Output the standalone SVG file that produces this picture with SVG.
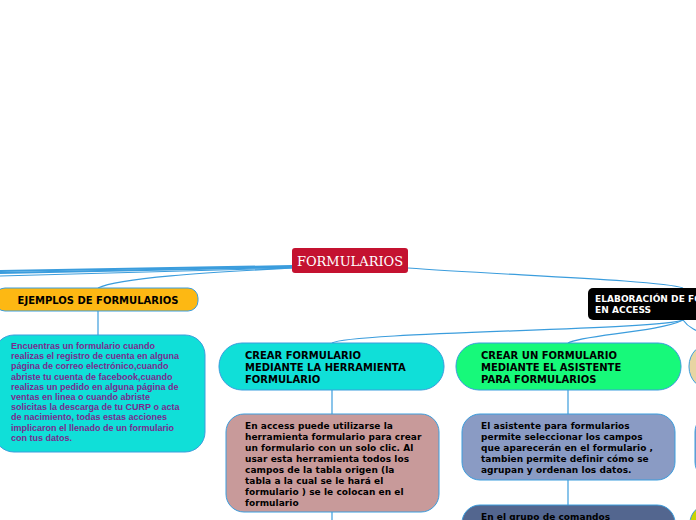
<svg xmlns="http://www.w3.org/2000/svg" width="696" height="520" viewBox="0 0 696 520">
<style>
.c{fill:none;stroke:#3b9ddd;stroke-width:1.2}
.cb{fill:none;stroke:#3b9ddd;stroke-width:2}
.b{stroke:#3b9ddd;stroke-width:1}
.t{font-family:"DejaVu Sans",Verdana,sans-serif;font-weight:bold;font-size:9px;letter-spacing:0.05px}
.p{font-family:"Liberation Sans",Arial,sans-serif;font-weight:bold;font-size:9px;fill:#7a2a8e}
.h{font-family:"DejaVu Sans",Verdana,sans-serif;font-weight:bold;font-size:10px;fill:#000}
</style>
<rect width="696" height="520" fill="#fff"/>
<g id="connectors">
<path class="cb" d="M292,266 C200,268 100,270 0,271"/>
<path class="cb" d="M292,267 C200,269 100,271 0,273"/>
<path class="c" d="M292,268 C200,271 100,273 0,276"/>
<path class="c" d="M292,268 C220,272 120,277 98,288"/>
<path class="c" d="M408,268 C500,275 660,280 683,288"/>
<path class="c" d="M98,311 L98,335"/>
<path class="c" d="M683,320 C660,330 350,332 332,343"/>
<path class="c" d="M683,320 C660,332 580,335 568,343"/>
<path class="c" d="M683,320 C690,330 700,332 720,340"/>
<path class="c" d="M332,390 L332,414"/>
<path class="c" d="M332,512 L332,520"/>
<path class="c" d="M568,390 L568,414"/>
<path class="c" d="M568,480 L568,505"/>
</g>
<g id="formularios">
<rect x="292" y="248" width="116" height="25" rx="3" fill="#c41230"/>
<text x="350" y="265.5" text-anchor="middle" font-family="'DejaVu Serif',serif" font-size="13" fill="#fff">FORMULARIOS</text>
</g>
<g id="ejemplos">
<rect class="b" x="-5" y="288" width="203" height="23" rx="10" fill="#fdb813"/>
<text class="h" x="98" y="303.5" text-anchor="middle" font-size="9.5">EJEMPLOS DE FORMULARIOS</text>
</g>
<g id="ejemplos-texto">
<rect class="b" x="-6" y="335" width="211" height="117" rx="20" fill="#10dfd8"/>
<text class="p">
<tspan x="11" y="349">Encuentras un formulario cuando</tspan>
<tspan x="11" y="359.2">realizas el registro de cuenta en alguna</tspan>
<tspan x="11" y="369.4">página de correo electrónico,cuando</tspan>
<tspan x="11" y="379.6">abriste tu cuenta de facebook,cuando</tspan>
<tspan x="11" y="389.8">realizas un pedido en alguna página de</tspan>
<tspan x="11" y="400">ventas en linea o cuando abriste</tspan>
<tspan x="11" y="410.2">solicitas la descarga de tu CURP o acta</tspan>
<tspan x="11" y="420.4">de nacimiento, todas estas acciones</tspan>
<tspan x="11" y="430.6">implicaron el llenado de un formulario</tspan>
<tspan x="11" y="440.8">con tus datos.</tspan>
</text>
</g>
<g id="elaboracion">
<rect x="588" y="288" width="130" height="32" rx="5" fill="#000"/>
<text class="t" fill="#fff" font-size="8" letter-spacing="0.7">
<tspan x="595" y="301.5">ELABORACIÓN DE FORMULARIOS</tspan>
<tspan x="595" y="312.5">EN ACCESS</tspan>
</text>
</g>
<g id="crear-herramienta">
<rect class="b" x="219" y="343" width="225" height="47" rx="23" fill="#10dfd8"/>
<text class="h">
<tspan x="245" y="358.5">CREAR FORMULARIO</tspan>
<tspan x="245" y="370.5">MEDIANTE LA HERRAMIENTA</tspan>
<tspan x="245" y="382.5">FORMULARIO</tspan>
</text>
</g>
<g id="herramienta-texto">
<rect class="b" x="226" y="414" width="213" height="98" rx="18" fill="#c89a9a"/>
<text class="t" fill="#000">
<tspan x="245" y="429">En access puede utilizarse la</tspan>
<tspan x="245" y="440">herramienta formulario para crear</tspan>
<tspan x="245" y="451">un formulario con un solo clic. Al</tspan>
<tspan x="245" y="462">usar esta herramienta todos los</tspan>
<tspan x="245" y="473">campos de la tabla origen (la</tspan>
<tspan x="245" y="484">tabla a la cual se le hará el</tspan>
<tspan x="245" y="495">formulario ) se le colocan en el</tspan>
<tspan x="245" y="506">formulario</tspan>
</text>
</g>
<g id="crear-asistente">
<rect class="b" x="456" y="343" width="225" height="47" rx="23" fill="#17f97a"/>
<text class="h">
<tspan x="481" y="358.5">CREAR UN FORMULARIO</tspan>
<tspan x="481" y="370.5">MEDIANTE EL ASISTENTE</tspan>
<tspan x="481" y="382.5">PARA FORMULARIOS</tspan>
</text>
</g>
<g id="asistente-texto">
<rect class="b" x="462" y="414" width="213" height="66" rx="18" fill="#8a9bc4"/>
<text class="t" fill="#000">
<tspan x="481" y="429">El asistente para formularios</tspan>
<tspan x="481" y="440">permite seleccionar los campos</tspan>
<tspan x="481" y="451">que aparecerán en el formulario ,</tspan>
<tspan x="481" y="462">tambien permite definir cómo se</tspan>
<tspan x="481" y="473">agrupan y ordenan los datos.</tspan>
</text>
</g>
<g id="comandos">
<rect class="b" x="462" y="505" width="213" height="40" rx="18" fill="#53668f"/>
<text class="t" fill="#000" x="481" y="519.5">En el grupo de comandos</text>
</g>
<g id="right-1">
<rect class="b" x="689" y="343" width="120" height="47" rx="23" fill="#e8d5a3"/>
</g>
<g id="right-2">
<rect class="b" x="695" y="414" width="120" height="66" rx="18" fill="#8a9bc4"/>
</g>
<g id="right-3">
<rect class="b" x="690" y="505" width="120" height="40" rx="18" fill="#c8d400"/>
</g>
</svg>
